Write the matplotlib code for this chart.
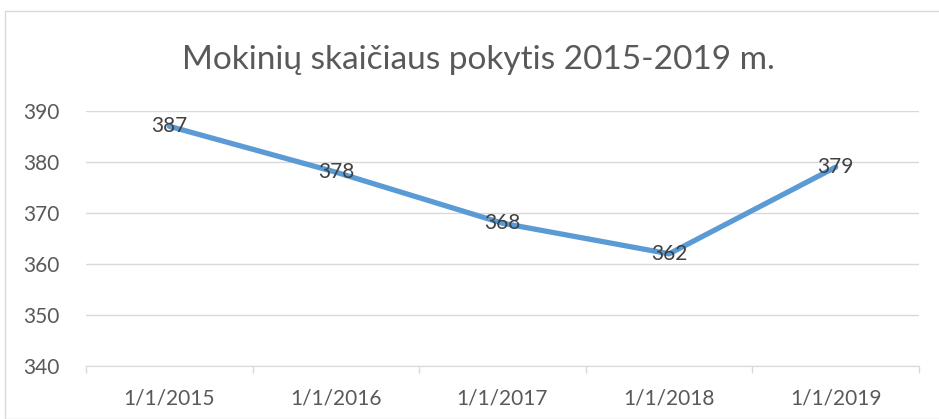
import matplotlib.pyplot as plt
from matplotlib.patches import Rectangle

# duomenys
metai = ['1/1/2015', '1/1/2016', '1/1/2017', '1/1/2018', '1/1/2019']
mokiniai = [387, 378, 368, 362, 379]
y_ticks = [340, 350, 360, 370, 380, 390]

W, H = 939, 419
fig = plt.figure(figsize=(W / 100, H / 100), dpi=100)
plt.rcParams['font.family'] = ['Lato', 'DejaVu Sans']

# diagramos rėmelis (matosi tik viršus ir kairė)
fig.patches.append(Rectangle((5 / W, 0), 2, (H - 11) / H, transform=fig.transFigure,
                             fill=False, edgecolor='#d9d9d9', linewidth=1))

ax = fig.add_axes([86 / W, (H - 366) / H, (919 - 86) / W, (366 - 111) / H])
x = list(range(len(metai)))
ax.plot(x, mokiniai, color='#5b9bd5', linewidth=3.8, solid_capstyle='round', zorder=3)
for xi, v in zip(x, mokiniai):
    ax.text(xi, v, str(v), ha='center', va='center', fontsize=15, color='#404040', zorder=4)

ax.set_xlim(-0.5, len(metai) - 0.5)
ax.set_ylim(340, 390)
ax.set_yticks(y_ticks)
ax.set_xticks(x)
ax.set_xticklabels(metai)
ax.set_xticks([i - 0.5 for i in range(len(metai) + 1)], minor=True)
ax.tick_params(axis='x', which='major', length=0, pad=16, labelsize=15, labelcolor='#595959')
ax.tick_params(axis='x', which='minor', length=5, color='#d9d9d9', width=1)
ax.tick_params(axis='y', length=0, pad=19, labelsize=15, labelcolor='#595959')
ax.grid(axis='y', color='#d9d9d9', linewidth=1)
ax.set_axisbelow(True)
for s in ['top', 'right', 'left']:
    ax.spines[s].set_visible(False)
ax.spines['bottom'].set_color('#d9d9d9')

fig.text(478 / W, 1 - 60 / H, 'Mokinių skaičiaus pokytis 2015-2019 m.', ha='center', va='center',
         fontsize=24, color='#595959')

fig.savefig('out.png', dpi=100)
